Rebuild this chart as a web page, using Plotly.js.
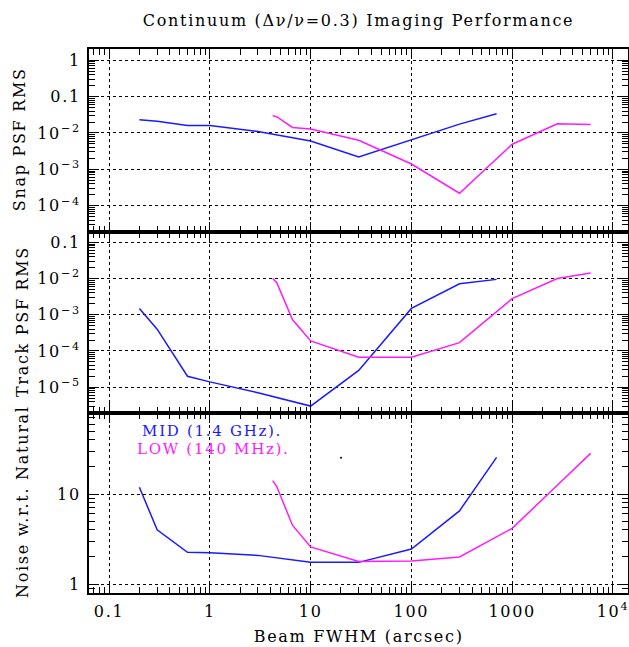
<!DOCTYPE html>
<html>
<head>
<meta charset="utf-8">
<script src="https://cdn.plot.ly/plotly-3.0.1.min.js"></script>
<style>
html,body{margin:0;padding:0;background:#fff;}
#chart text{letter-spacing:1.7px;}
</style>
</head>
<body>
<div id="chart" style="width:629px;height:647px;"></div>
<script>
// ---- data ----
const midX = [0.2, 0.3, 0.6, 1, 3, 10, 30, 100, 300, 700];
const midSnap = [0.023, 0.021, 0.016, 0.016, 0.011, 0.006, 0.0022, 0.0065, 0.0175, 0.034];
const midTrack = [1.5e-3, 4.0e-4, 2.0e-5, 1.4e-5, 7e-6, 3.0e-6, 2.9e-5, 1.5e-3, 7.2e-3, 9.5e-3];
const midNoise = [11.9, 4.0, 2.25, 2.22, 2.08, 1.75, 1.74, 2.45, 6.5, 25.5];

const lowX = [4.2, 4.6, 6.6, 10, 30, 100, 300, 1000, 2800, 6000];
const lowSnap = [0.030, 0.028, 0.0142, 0.0128, 0.0063, 0.0014, 0.00022, 0.0049, 0.018, 0.0171];
const lowTrack = [0.0100, 7.8e-3, 7.4e-4, 1.9e-4, 6.7e-5, 6.7e-5, 1.7e-4, 2.8e-3, 0.0100, 0.0142];
const lowNoise = [14.1, 12.2, 4.5, 2.58, 1.78, 1.80, 2.0, 4.16, 12.5, 28.3];

const strayX = [20];
const strayY = [25.3];

const xTickVals = [0.1, 1, 10, 100, 1000, 10000];
const xTickText = ['0.1', '1', '10', '100', '1000', '10<sup>4</sup>'];
const snapTickVals = [1, 0.1, 0.01, 0.001, 0.0001];
const snapTickText = ['1', '0.1', '10<sup>−2</sup>', '10<sup>−3</sup>', '10<sup>−4</sup>'];
const trackTickVals = [0.1, 0.01, 0.001, 0.0001, 0.00001];
const trackTickText = ['0.1', '10<sup>−2</sup>', '10<sup>−3</sup>', '10<sup>−4</sup>', '10<sup>−5</sup>'];
const noiseTickVals = [1, 10];
const noiseTickText = ['1', '10'];

const titleText = 'Continuum (Δν/ν=0.3) Imaging Performance';
const xTitle = 'Beam FWHM (arcsec)';
const yTitles = ['Snap PSF RMS', 'Track PSF RMS', 'Noise w.r.t. Natural'];
const legendText = ['MID (1.4 GHz).', 'LOW (140 MHz).'];

const BLUE = '#1a1aff';
const MAGENTA = '#ff1aff';
const FONT = 'DejaVu Serif';
const MINORCOL = '#000000';

// minor tick positions (2..9 in each decade)
function minorTicks(lo, hi) {
  const out = [];
  for (let e = lo; e <= hi; e++) {
    for (let m = 2; m <= 9; m++) out.push(m * Math.pow(10, e));
  }
  return out;
}

const traces = [
  {x: midX, y: midSnap, xaxis: 'x3', yaxis: 'y3', mode: 'lines', line: {color: BLUE, width: 1.5}},
  {x: lowX, y: lowSnap, xaxis: 'x3', yaxis: 'y3', mode: 'lines', line: {color: MAGENTA, width: 1.5}},
  {x: midX, y: midTrack, xaxis: 'x2', yaxis: 'y2', mode: 'lines', line: {color: BLUE, width: 1.5}},
  {x: lowX, y: lowTrack, xaxis: 'x2', yaxis: 'y2', mode: 'lines', line: {color: MAGENTA, width: 1.5}},
  {x: midX, y: midNoise, xaxis: 'x', yaxis: 'y', mode: 'lines', line: {color: BLUE, width: 1.5}},
  {x: lowX, y: lowNoise, xaxis: 'x', yaxis: 'y', mode: 'lines', line: {color: MAGENTA, width: 1.5}},
  {x: strayX, y: strayY, xaxis: 'x', yaxis: 'y', mode: 'markers', marker: {color: '#000', size: 2}}
];

const L = 89, T = 49, PW = 539, PH = 544;
const d1 = (593 - 412.5) / PH, d2 = (593 - 231.5) / PH;

function xAxis(anchor, showLabels) {
  return {
    type: 'log', range: [-1.199, 4.149], anchor: anchor,
    tickmode: 'array', tickvals: xTickVals, ticktext: xTickText,
    showticklabels: showLabels,
    ticks: 'inside', ticklen: 10, tickwidth: 1, tickcolor: '#000',
    mirror: 'allticks', showline: true, linewidth: 2, linecolor: '#000',
    showgrid: true, gridcolor: '#000', gridwidth: 1, griddash: 'dot',
    zeroline: false, ticklabelstandoff: 3,
    tickfont: {family: FONT, size: 16, color: '#000'},
    minor: {tickmode: 'array', tickvals: minorTicks(-2, 4), ticks: 'inside', ticklen: 6,
            tickwidth: 1, tickcolor: MINORCOL, showgrid: false}
  };
}
function yAxis(anchor, domain, range, tv, tt, minLo, minHi) {
  return {
    type: 'log', range: range, domain: domain, anchor: anchor,
    tickmode: 'array', tickvals: tv, ticktext: tt,
    ticks: 'inside', ticklen: 10, tickwidth: 1, tickcolor: '#000',
    mirror: 'allticks', showline: true, linewidth: 2, linecolor: '#000',
    showgrid: true, gridcolor: '#000', gridwidth: 1, griddash: 'dot',
    zeroline: false, ticklabelstandoff: 3,
    tickfont: {family: FONT, size: 16, color: '#000'},
    minor: {tickmode: 'array', tickvals: minorTicks(minLo, minHi), ticks: 'inside', ticklen: 6,
            tickwidth: 1, tickcolor: MINORCOL, showgrid: false}
  };
}

function px2x(px) { return (px - L) / PW; }
function py2y(py) { return (T + PH - py) / PH; }

const layout = {
  width: 629, height: 647,
  margin: {l: L, r: 629 - L - PW, t: T, b: 647 - T - PH},
  paper_bgcolor: '#fff', plot_bgcolor: '#fff',
  showlegend: false,
  font: {family: FONT, size: 16, color: '#000'},
  title: {text: titleText, font: {family: FONT, size: 16, color: '#000'},
          xref: 'paper', x: 0.5, xanchor: 'center', yref: 'container', y: 1 - 20 / 647, yanchor: 'middle'},
  xaxis: xAxis('y', true),
  xaxis2: Object.assign(xAxis('y2', false), {matches: 'x'}),
  xaxis3: Object.assign(xAxis('y3', false), {matches: 'x'}),
  yaxis: yAxis('x', [0, d1], [-0.10, 1.906], noiseTickVals, noiseTickText, -1, 2),
  yaxis2: yAxis('x2', [d1, d2], [-5.70, -0.70], trackTickVals, trackTickText, -7, 0),
  yaxis3: yAxis('x3', [d2, 1], [-4.71, 0.31], snapTickVals, snapTickText, -6, 1),
  annotations: [
    {text: xTitle, xref: 'paper', yref: 'paper', x: px2x(358), y: py2y(636), xanchor: 'center', yanchor: 'middle',
     showarrow: false, font: {family: FONT, size: 16, color: '#000'}},
    {text: yTitles[0], xref: 'paper', yref: 'paper', x: px2x(20), y: py2y(140), textangle: -90,
     xanchor: 'center', yanchor: 'middle', showarrow: false, font: {family: FONT, size: 16, color: '#000'}},
    {text: yTitles[1], xref: 'paper', yref: 'paper', x: px2x(22), y: py2y(322), textangle: -90,
     xanchor: 'center', yanchor: 'middle', showarrow: false, font: {family: FONT, size: 16, color: '#000'}},
    {text: yTitles[2], xref: 'paper', yref: 'paper', x: px2x(22), y: py2y(502), textangle: -90,
     xanchor: 'center', yanchor: 'middle', showarrow: false, font: {family: FONT, size: 16, color: '#000'}},
    {text: legendText[0], xref: 'paper', yref: 'paper', x: px2x(152), y: py2y(431), xanchor: 'left', yanchor: 'middle',
     showarrow: false, font: {family: FONT, size: 15, color: BLUE}},
    {text: legendText[1], xref: 'paper', yref: 'paper', x: px2x(147), y: py2y(449), xanchor: 'left', yanchor: 'middle',
     showarrow: false, font: {family: FONT, size: 15, color: MAGENTA}}
  ]
};

Plotly.newPlot('chart', traces, layout, {staticPlot: true, displayModeBar: false});
</script>
</body>
</html>
